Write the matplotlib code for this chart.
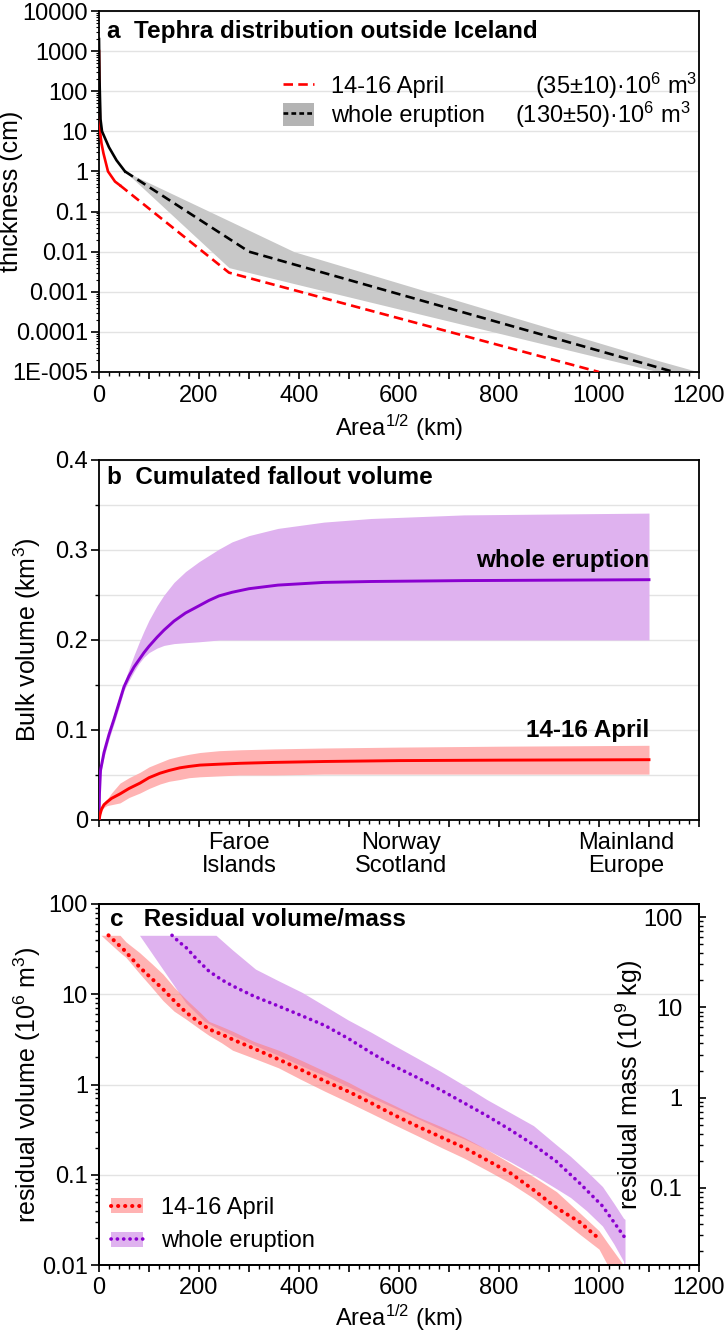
import matplotlib
matplotlib.use("Agg")
import matplotlib.pyplot as plt
from matplotlib.patches import Patch
from matplotlib.lines import Line2D
from matplotlib.transforms import blended_transform_factory
import numpy as np

plt.rcParams['font.family'] = ['Liberation Sans', 'DejaVu Sans']
plt.rcParams['mathtext.fontset'] = 'custom'
plt.rcParams['mathtext.rm'] = 'Liberation Sans'
plt.rcParams['mathtext.it'] = 'Liberation Sans:italic'
plt.rcParams['mathtext.bf'] = 'Liberation Sans:bold'

# ---------------- data: panel a ----------------
a_red_solid_x = [0, 1, 2, 5, 9, 18, 32, 42]
a_red_solid_y = [1000, 100, 10, 5, 2.8, 1.0, 0.56, 0.45]
a_red_dash_x = [42, 260, 1000]
a_red_dash_y = [0.45, 0.003, 1e-5]
a_blk_solid_x = [0, 1, 3, 6, 20, 35, 52]
a_blk_solid_y = [2000, 200, 20, 10, 4, 1.9, 1.0]
a_blk_dash_x = [52, 300, 1150]
a_blk_dash_y = [1.0, 0.01, 1e-5]
a_band_x = [52, 260, 390, 1120, 1200]
a_band_up = [1.0, 0.059, 0.01, 1.9e-5, 1e-5]
a_band_lo = [1.0, 0.004, 0.0016, 1e-5, 5e-6]
a_yticks = [1e-5, 1e-4, 1e-3, 1e-2, 1e-1, 1, 10, 100, 1000, 10000]
a_yticklabels = ['1E-005', '0.0001', '0.001', '0.01', '0.1', '1', '10', '100', '1000', '10000']
x_ticks = [0, 100, 200, 300, 400, 500, 600, 700, 800, 900, 1000, 1100, 1200]
x_ticklabels = ['0', '', '200', '', '400', '', '600', '', '800', '', '1000', '', '1200']

# ---------------- data: panel b ----------------
b_whole_x = [0, 1, 3, 10, 20, 30, 40, 50, 60, 70, 80, 90, 100, 116, 130, 150, 173, 200,
             220, 240, 266, 300, 358, 450, 544, 730, 1100]
b_whole = [0, 0.03, 0.055, 0.075, 0.095, 0.112, 0.13, 0.148, 0.16, 0.17, 0.178, 0.186, 0.193,
           0.203, 0.211, 0.221, 0.230, 0.238, 0.244, 0.249, 0.253, 0.257, 0.261, 0.264, 0.265,
           0.266, 0.267]
b_whole_up = [0, 0.032, 0.058, 0.08, 0.1, 0.118, 0.136, 0.152, 0.168, 0.183, 0.197, 0.21, 0.222,
              0.238, 0.25, 0.264, 0.276, 0.287, 0.294, 0.301, 0.309, 0.316, 0.324, 0.331, 0.335,
              0.339, 0.341]
b_whole_lo = [0, 0.028, 0.052, 0.07, 0.09, 0.107, 0.125, 0.144, 0.155, 0.165, 0.174, 0.181, 0.186,
              0.191, 0.194, 0.196, 0.197, 0.198, 0.199, 0.2, 0.2, 0.2, 0.2, 0.2, 0.2, 0.2, 0.2]
b_apr_x = [0, 2, 5, 10, 16, 25, 42, 60, 82, 100, 122, 140, 162, 180, 202, 240, 282, 350, 450,
           600, 800, 1100]
b_apr = [0, 0.006, 0.012, 0.017, 0.02, 0.024, 0.029, 0.035, 0.041, 0.047, 0.052, 0.055, 0.058,
         0.0595, 0.061, 0.062, 0.063, 0.064, 0.065, 0.066, 0.0665, 0.067]
b_apr_up = [0, 0.007, 0.014, 0.019, 0.023, 0.03, 0.041, 0.047, 0.053, 0.059, 0.064, 0.068, 0.071,
            0.073, 0.075, 0.077, 0.078, 0.079, 0.080, 0.081, 0.082, 0.083]
b_apr_lo = [0, 0.005, 0.01, 0.014, 0.016, 0.017, 0.019, 0.025, 0.030, 0.035, 0.040, 0.043, 0.045,
            0.047, 0.048, 0.049, 0.050, 0.050, 0.051, 0.051, 0.051, 0.051]
b_region_x = [280, 605, 1055]
b_region_labels = ['Faroe\nIslands', 'Norway\nScotland', 'Mainland\nEurope']
b_yticks = [0, 0.1, 0.2, 0.3, 0.4]
b_yticklabels = ['0', '0.1', '0.2', '0.3', '0.4']

# ---------------- data: panel c ----------------
c_apr_x = [19, 50, 81, 105, 128, 150, 174, 200, 220, 245, 267, 310, 359, 405, 452, 500, 544,
           590, 637, 685, 730, 776, 822, 869, 915, 961, 998]
c_apr = [45, 31, 20, 15, 11.4, 8.5, 6.3, 4.9, 4.1, 3.6, 3.16, 2.5, 1.9, 1.45, 1.09, 0.83, 0.625,
         0.46, 0.344, 0.26, 0.2, 0.145, 0.105, 0.068, 0.043, 0.03, 0.02]
c_apr_band_x = [4, 42, 54, 81, 105, 128, 150, 174, 202, 220, 245, 267, 310, 359, 405, 452, 500,
                544, 590, 637, 685, 730, 776, 822, 869, 915, 961, 1000, 1017, 1030, 1049]
c_apr_up = [45, 45, 38, 29, 22, 16.7, 12, 8.8, 6.3, 5.0, 4.4, 3.9, 3.0, 2.4, 1.85, 1.4, 1.05,
            0.78, 0.59, 0.44, 0.34, 0.26, 0.19, 0.135, 0.095, 0.065, 0.038, 0.024, 0.0176,
            0.014, 0.01]
c_apr_lo = [45, 29, 25.6, 17, 12, 8.5, 6.5, 5.3, 4.1, 3.5, 2.9, 2.4, 1.95, 1.53, 1.13, 0.84, 0.63,
            0.48, 0.36, 0.27, 0.2, 0.153, 0.112, 0.081, 0.055, 0.035, 0.022, 0.015, 0.01,
            0.006, 0.005]
c_whole_x = [146, 160, 174, 197, 220, 245, 267, 310, 359, 405, 452, 500, 544, 590, 637, 685, 730,
             776, 822, 869, 915, 961, 1007, 1052]
c_whole = [45, 38, 33, 24, 18, 14.5, 12.4, 9.5, 7.4, 5.8, 4.5, 3.2, 2.25, 1.6, 1.19, 0.86, 0.625,
           0.45, 0.316, 0.215, 0.14, 0.081, 0.045, 0.02]
c_whole_band_x = [81, 174, 211, 234, 267, 313, 359, 406, 452, 498, 544, 591, 637, 683, 730, 776,
                  822, 869, 915, 943, 975, 1007, 1030, 1049, 1052]
c_whole_up = [45, 45, 45, 45, 31, 19, 14.1, 10.5, 7.4, 5.2, 3.8, 2.7, 1.95, 1.4, 0.98, 0.68, 0.49,
              0.35, 0.214, 0.16, 0.11, 0.074, 0.048, 0.033, 0.032]
c_whole_lo = [45, 8, 5.0, 4.3, 3.5, 2.7, 2.1, 1.6, 1.25, 0.95, 0.72, 0.55, 0.42, 0.32, 0.25, 0.19,
              0.14, 0.1, 0.07, 0.056, 0.04, 0.027, 0.017, 0.011, 0.005]
c_yticks = [0.01, 0.1, 1, 10, 100]
c_yticklabels = ['0.01', '0.1', '1', '10', '100']
c_mass_ticks = [0.1, 1, 10, 100]
c_mass_ticklabels = ['0.1', '1', '10', '100']
density_factor = 1.4  # 10^9 kg per 10^6 m3

# ---------------- styling ----------------
RED = '#ff0000'
RED_BAND = '#ffb3b3'
PURPLE = '#8a00d0'
PURPLE_BAND = '#dfb2ef'
GREY_BAND = '#c8c8c8'
GRID = '#e3e3e3'
FS = 17
TFS = 17.5
LW = 1.9

W, H = 727, 1332
fig = plt.figure(figsize=(W / 100, H / 100), dpi=100)

def rect(left, top, right, bottom):
    return [left / W, 1 - bottom / H, (right - left) / W, (bottom - top) / H]

axa = fig.add_axes(rect(99, 11, 699, 372))
axb = fig.add_axes(rect(99, 460, 699, 820))
axc = fig.add_axes(rect(99, 904, 699, 1265))

def style_x(ax, labels=True):
    ax.set_xlim(0, 1200)
    ax.set_xticks(x_ticks)
    ax.set_xticks(np.arange(0, 1201, 20), minor=True)
    if labels:
        ax.set_xticklabels(x_ticklabels)
    else:
        ax.set_xticklabels([''] * len(x_ticks))
    ax.tick_params(axis='x', which='major', direction='out', length=5, width=1.2, labelsize=FS, pad=4)
    ax.tick_params(axis='x', which='minor', direction='out', length=3, width=1.0)
    for s in ax.spines.values():
        s.set_linewidth(1.3)

def log_minor(ax):
    ax.yaxis.set_minor_locator(matplotlib.ticker.LogLocator(base=10, subs=np.arange(2, 10), numticks=20))
    ax.yaxis.set_minor_formatter(matplotlib.ticker.NullFormatter())

# ---------------- panel a ----------------
axa.set_yscale('log')
axa.set_ylim(1e-5, 1e4)
axa.fill_between(a_band_x, a_band_lo, a_band_up, color=GREY_BAND, lw=0, zorder=1)
axa.plot(a_red_solid_x, a_red_solid_y, color=RED, lw=LW, zorder=3)
axa.plot(a_red_dash_x, a_red_dash_y, color=RED, lw=LW, ls=(0, (3.6, 2.0)), zorder=3)
axa.plot(a_blk_solid_x, a_blk_solid_y, color='black', lw=LW, zorder=3)
axa.plot(a_blk_dash_x, a_blk_dash_y, color='black', lw=LW, ls=(0, (3.6, 2.0)), zorder=3)
axa.set_yticks(a_yticks)
axa.set_yticklabels(a_yticklabels)
log_minor(axa)
axa.tick_params(axis='y', which='major', direction='out', length=6, width=1.2, labelsize=FS, pad=2)
axa.tick_params(axis='y', which='minor', direction='out', length=2.5, width=0.8)
axa.grid(True, which='major', axis='y', color=GRID, lw=1.0, zorder=0)
axa.set_axisbelow(True)
style_x(axa)
axa.set_xlabel('Area$^{1/2}$ (km)', fontsize=FS)
axa.xaxis.set_label_coords(0.5, -0.112)
axa.xaxis.label.set_va('top')
axa.set_ylabel('thickness (cm)', fontsize=FS + 1)
axa.yaxis.set_label_coords(-0.127, 0.5)
axa.text(0.013, 0.942, 'a  Tephra distribution outside Iceland', transform=axa.transAxes,
         fontsize=TFS, fontweight='bold', va='center', ha='left')

h1 = Line2D([], [], color=RED, lw=LW, ls=(0, (3.6, 2.0)))
h2 = (Patch(facecolor='#b4b4b4', edgecolor='none'), Line2D([], [], color='black', lw=LW, ls=(0, (1.8, 1.2))))
axa.legend([h1, h2], ['14-16 April', 'whole eruption'], loc='upper left',
           bbox_to_anchor=((283 - 99) / 600, (372 - 74) / 361), frameon=False, fontsize=FS,
           handlelength=1.3, handleheight=1.1, handletextpad=0.75, labelspacing=0.2,
           borderpad=0, borderaxespad=0)
axa.text((697 - 99) / 600, (372 - 86) / 361, '(35±10)·10$^6$ m$^3$', transform=axa.transAxes,
         fontsize=FS, ha='right', va='center')
axa.text((690 - 99) / 600, (372 - 115) / 361, '(130±50)·10$^6$ m$^3$', transform=axa.transAxes,
         fontsize=FS, ha='right', va='center')

# ---------------- panel b ----------------
axb.set_ylim(0, 0.4)
axb.fill_between(b_whole_x, b_whole_lo, b_whole_up, color=PURPLE_BAND, lw=0, zorder=1)
axb.fill_between(b_apr_x, b_apr_lo, b_apr_up, color=RED_BAND, lw=0, zorder=1)
axb.plot(b_whole_x, b_whole, color=PURPLE, lw=LW + 0.2, zorder=3)
axb.plot(b_apr_x, b_apr, color=RED, lw=LW + 0.2, zorder=3)
axb.set_yticks(b_yticks)
axb.set_yticklabels(b_yticklabels)
axb.set_yticks(np.arange(0, 0.41, 0.05), minor=True)
axb.tick_params(axis='y', which='major', direction='out', length=6, width=1.2, labelsize=FS, pad=2)
axb.tick_params(axis='y', which='minor', direction='out', length=3, width=1.0)
axb.grid(True, which='both', axis='y', color=GRID, lw=1.0, zorder=0)
axb.set_axisbelow(True)
style_x(axb, labels=False)
trans_b = blended_transform_factory(axb.transData, axb.transAxes)
for xr, lab in zip(b_region_x, b_region_labels):
    axb.text(xr, -0.032, lab, transform=trans_b, ha='center', va='top', fontsize=FS, linespacing=1.1)
axb.set_ylabel('Bulk volume (km$^3$)', fontsize=FS + 1)
axb.yaxis.set_label_coords(-0.093, 0.5)
axb.text(0.013, 0.95, 'b  Cumulated fallout volume', transform=axb.transAxes,
         fontsize=TFS, fontweight='bold', va='center', ha='left')
axb.text(1100, 0.288, 'whole eruption', fontsize=TFS, fontweight='bold', ha='right', va='center')
axb.text(1100, 0.100, '14-16 April', fontsize=TFS, fontweight='bold', ha='right', va='center')

# ---------------- panel c ----------------
axc.set_yscale('log')
axc.set_ylim(0.01, 100)
axc.fill_between(c_whole_band_x, c_whole_lo, c_whole_up, color=PURPLE_BAND, lw=0, zorder=1)
axc.fill_between(c_apr_band_x, c_apr_lo, c_apr_up, color='#ff8080', alpha=0.6, lw=0, zorder=2)
DOT = (0, (0.05, 1.7))
axc.plot(c_whole_x, c_whole, color=PURPLE, lw=2.6, ls=DOT, dash_capstyle='round', zorder=3)
axc.plot(c_apr_x, c_apr, color=RED, lw=2.9, ls=DOT, dash_capstyle='round', zorder=3)
axc.set_yticks(c_yticks)
axc.set_yticklabels(c_yticklabels)
log_minor(axc)
axc.tick_params(axis='y', which='major', direction='out', length=6, width=1.2, labelsize=FS, pad=2)
axc.tick_params(axis='y', which='minor', direction='out', length=3, width=1.0)
axc.grid(True, which='major', axis='y', color=GRID, lw=1.0, zorder=0)
axc.set_axisbelow(True)
style_x(axc)
axc.set_xlabel('Area$^{1/2}$ (km)', fontsize=FS)
axc.xaxis.set_label_coords(0.5, -0.104)
axc.xaxis.label.set_va('top')
axc.set_ylabel('residual volume (10$^6$ m$^3$)', fontsize=FS + 1)
axc.yaxis.set_label_coords(-0.093, 0.5)
axc.text(0.018, 0.956, 'c   Residual volume/mass', transform=axc.transAxes,
         fontsize=TFS, fontweight='bold', va='center', ha='left')

hc1 = (Patch(facecolor=RED_BAND, edgecolor='none'),
       Line2D([], [], color=RED, lw=2.9, ls=DOT, dash_capstyle='round'))
hc2 = (Patch(facecolor=PURPLE_BAND, edgecolor='none'),
       Line2D([], [], color=PURPLE, lw=2.6, ls=DOT, dash_capstyle='round'))
axc.legend([hc1, hc2], ['14-16 April', 'whole eruption'], loc='lower left',
           bbox_to_anchor=(0.02, 0.035), frameon=False, fontsize=FS,
           handlelength=1.35, handleheight=0.6, handletextpad=0.75, labelspacing=0.5,
           borderpad=0, borderaxespad=0)

axc2 = axc.twinx()
axc2.set_yscale('log')
axc2.set_ylim(0.01 * density_factor, 100 * density_factor)
axc2.set_yticks(c_mass_ticks)
axc2.set_yticklabels(c_mass_ticklabels)
log_minor(axc2)
axc2.tick_params(axis='y', which='major', direction='out', length=5, width=1.2, labelsize=FS, pad=-17)
axc2.tick_params(axis='y', which='minor', direction='out', length=3, width=1.0)
for lbl in axc2.get_yticklabels():
    lbl.set_horizontalalignment('right')
axc2.text((629 - 99) / 600, 0.5, 'residual mass (10$^9$ kg)', transform=axc2.transAxes,
          rotation=90, ha='center', va='center', fontsize=FS + 1)
for s in axc2.spines.values():
    s.set_linewidth(1.3)

fig.savefig('out.png', dpi=100)
